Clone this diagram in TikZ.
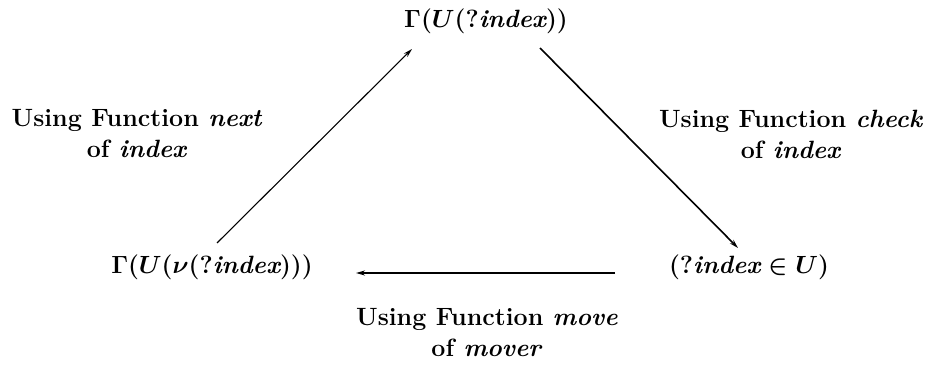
\documentclass[tikz,border=0pt]{standalone}
\usetikzlibrary{arrows.meta}

\begin{document}
\begin{tikzpicture}[x=1pt,y=-1pt,>={Stealth[length=9pt,width=5pt]},
    font=\fontsize{25}{31}\selectfont\bfseries\boldmath,
    term/.style={inner sep=0pt},
    lbl/.style={align=center,inner sep=0pt}]
  \useasboundingbox (0,0) rectangle (942,371);

  % the three states
  \node[term] (top) at (486,21) {$\Gamma(U(?\textit{index}))$};
  \node[term] (left) at (212,267) {$\Gamma(U(\nu(?\textit{index})))$};
  \node[term] (right) at (749,267) {$(?\textit{index}\in U)$};

  % transitions
  \draw[->,line width=1.1pt]
    ([xshift=5pt,yshift=24pt]left.center) -- ([xshift=-74pt,yshift=-28pt]top.center);
  \draw[->,line width=1.6pt]
    ([xshift=54pt,yshift=-27pt]top.center) -- ([xshift=-11pt,yshift=19pt]right.center);
  \draw[->,line width=1.6pt]
    ([xshift=-134pt,yshift=-6pt]right.center) -- ([xshift=144pt,yshift=-6pt]left.center);

  \node[lbl] (next) at (137,134) {Using Function \textit{next}\\of \textit{index}};
  \node[lbl] (check) at (791,134) {Using Function \textit{check}\\of \textit{index}};
  \node[lbl] (move) at (487,333) {Using Function \textit{move}\\of \textit{mover}};
\end{tikzpicture}
\end{document}
